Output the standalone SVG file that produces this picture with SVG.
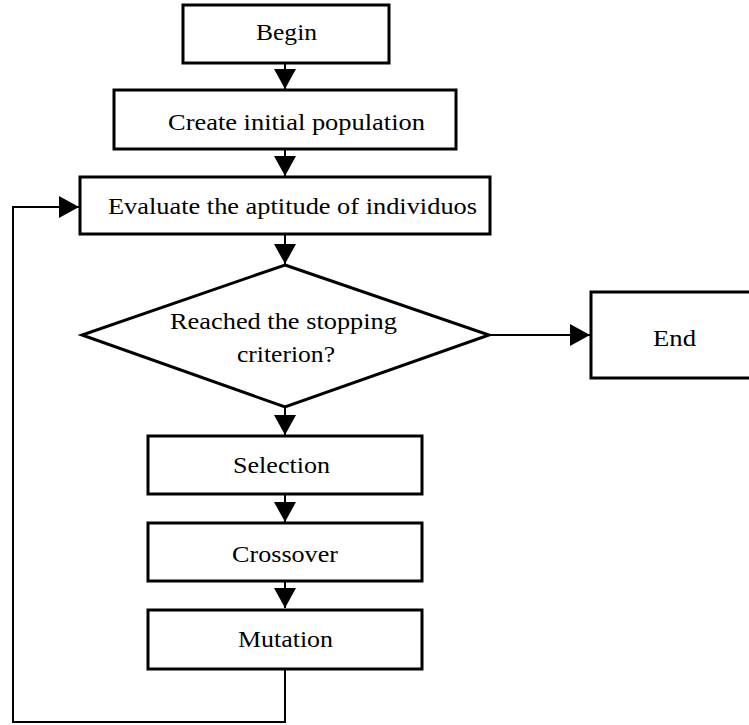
<svg xmlns="http://www.w3.org/2000/svg" width="749" height="725" viewBox="0 0 749 725">
<style>
.box{fill:#fff;stroke:#000;stroke-width:3}
.lbl{font-family:"Liberation Serif","Times New Roman",serif;font-size:23px;fill:#000;text-anchor:middle}
.con{fill:none;stroke:#000;stroke-width:2}
</style>
<defs>
<marker id="ah" markerWidth="20" markerHeight="22" refX="20" refY="11" orient="auto" markerUnits="userSpaceOnUse">
<path d="M0,0 L20,11 L0,22 Z" fill="#000"/>
</marker>
</defs>
<g id="connectors">
<line class="con" x1="285" y1="63" x2="285" y2="89" marker-end="url(#ah)"/>
<line class="con" x1="285" y1="149" x2="285" y2="176" marker-end="url(#ah)"/>
<line class="con" x1="285" y1="234" x2="285" y2="264" marker-end="url(#ah)"/>
<line class="con" x1="489" y1="335" x2="590" y2="335" marker-end="url(#ah)"/>
<line class="con" x1="285" y1="407" x2="285" y2="435" marker-end="url(#ah)"/>
<line class="con" x1="285" y1="494" x2="285" y2="522" marker-end="url(#ah)"/>
<line class="con" x1="285" y1="581" x2="285" y2="608" marker-end="url(#ah)"/>
<polyline class="con" points="285,669 285,722 13,722 13,207 79,207" marker-end="url(#ah)"/>
</g>
<g id="begin"><rect class="box" x="183" y="5" width="206" height="58"/><text class="lbl" x="286.5" y="40" textLength="61" lengthAdjust="spacingAndGlyphs">Begin</text></g>
<g id="create"><rect class="box" x="114" y="90" width="342" height="59"/><text class="lbl" x="296.5" y="130" textLength="257" lengthAdjust="spacingAndGlyphs">Create initial population</text></g>
<g id="evaluate"><rect class="box" x="80" y="177" width="410" height="57"/><text class="lbl" x="292.5" y="214" textLength="369" lengthAdjust="spacingAndGlyphs">Evaluate the aptitude of individuos</text></g>
<g id="decision"><polygon class="box" points="285,265 489,335 285,407 82,335"/><text class="lbl" x="283.5" y="329" textLength="227" lengthAdjust="spacingAndGlyphs">Reached the stopping</text><text class="lbl" x="286" y="362" textLength="98" lengthAdjust="spacingAndGlyphs">criterion?</text></g>
<g id="end"><rect class="box" x="591" y="292" width="162" height="86"/><text class="lbl" x="674.5" y="346" textLength="43" lengthAdjust="spacingAndGlyphs">End</text></g>
<g id="selection"><rect class="box" x="148" y="436" width="274" height="58"/><text class="lbl" x="281.5" y="473" textLength="97" lengthAdjust="spacingAndGlyphs">Selection</text></g>
<g id="crossover"><rect class="box" x="148" y="523" width="274" height="58"/><text class="lbl" x="285" y="562" textLength="106" lengthAdjust="spacingAndGlyphs">Crossover</text></g>
<g id="mutation"><rect class="box" x="148" y="610" width="274" height="59"/><text class="lbl" x="285.5" y="647" textLength="95" lengthAdjust="spacingAndGlyphs">Mutation</text></g>
</svg>
